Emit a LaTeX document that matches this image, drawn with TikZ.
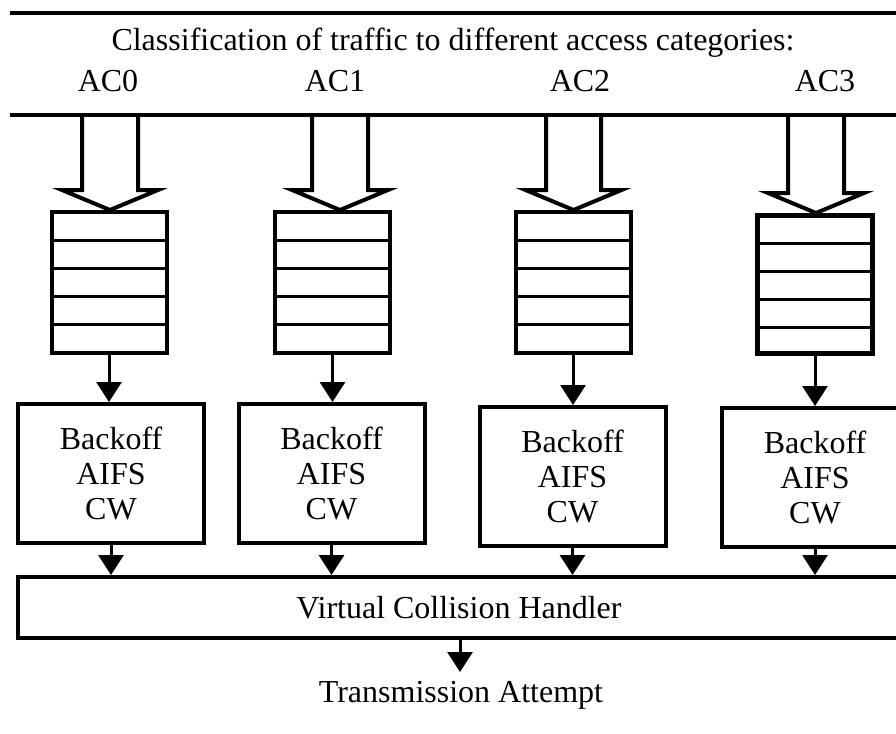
\documentclass[tikz,border=0pt]{standalone}
\usepackage{fontspec}
\setmainfont{Liberation Serif}
\usetikzlibrary{arrows.meta,positioning}

\begin{document}
\begin{tikzpicture}[x=1pt,y=-1pt,>={Triangle[length=20pt,width=25pt]},
    every node/.style={font=\fontsize{32}{35}\selectfont},
    queue/.style={draw,line width=4pt,minimum width=115pt,minimum height=141pt,inner sep=0pt,
      path picture={\foreach \k in {1,2,3,4}
        \draw[line width=3pt] ([yshift=-\k*28.2pt]path picture bounding box.north west)
          -- ([yshift=-\k*28.2pt]path picture bounding box.north east);}},
    backoff/.style={draw,line width=4pt,minimum width=186pt,minimum height=139pt,align=center},
    flow/.style={->,line width=3pt},
    fatarrow/.style={line width=4pt,line join=miter}]
      \clip (0,0) rectangle (896,733);
      % classification bar
      \draw[line width=4pt] (10,13.5) -- (900,13.5);
      \draw[line width=4pt] (10,115.5) -- (900,115.5);
      \node[anchor=base] (hdr) at (453,51) {Classification of traffic to different access categories:};
      \node[anchor=base] (ac0) at (108,92) {AC0};
      \node[anchor=base] (ac1) at (335,92) {AC1};
      \node[anchor=base] (ac2) at (580,92) {AC2};
      \node[anchor=base] (ac3) at (825,92) {AC3};
      % queues
      \node[queue] (q0) at (109,282.5) {};
      \node[queue] (q1) at (332.5,282.5) {};
      \node[queue] (q2) at (573,282.5) {};
      \node[queue,minimum height=138pt,line width=5pt] (q3) at (815,284) {};
      \draw[fatarrow] (82,115) |- (62,190) -- (110,210) -- (158,190) -| (138,115);
      \draw[fatarrow] (312,115) |- (292,190) -- (340,210) -- (388,190) -| (368,115);
      \draw[fatarrow] (546,115) |- (525.5,190) -- (573.5,210) -- (621.5,190) -| (601,115);
      \draw[fatarrow] (788,115) |- (768,193) -- (816,213) -- (864,193) -| (844,115);
      % backoff entities
      \node[backoff] (b0) at (111,473.5) {Backoff\\AIFS\\CW};
      \node[backoff] (b1) at (331.5,473.5) {Backoff\\AIFS\\CW};
      \node[backoff] (b2) at (572.5,476.5) {Backoff\\AIFS\\CW};
      \node[backoff] (b3) at (815,477.5) {Backoff\\AIFS\\CW};
      \draw[flow] (q0.south) -- (q0.south |- b0.north);
      \draw[flow] (q1.south) -- (q1.south |- b1.north);
      \draw[flow] (q2.south) -- (q2.south |- b2.north);
      \draw[flow] (q3.south) -- (q3.south |- b3.north);
      % collision handler
      \node[draw,line width=4pt,minimum width=882pt,minimum height=61pt] (vch) at (459,607.5) {Virtual Collision Handler};
      \draw[flow] (b0.south) -- (b0.south |- vch.north);
      \draw[flow] (b1.south) -- (b1.south |- vch.north);
      \draw[flow] (b2.south) -- (b2.south |- vch.north);
      \draw[flow] (b3.south) -- (b3.south |- vch.north);
      \node[anchor=base] (ta) at (461,702) {Transmission Attempt};
      \coordinate (tatip) at (460,672);
      \draw[flow] (vch.south -| tatip) -- (tatip);
    \end{tikzpicture}
\end{document}
